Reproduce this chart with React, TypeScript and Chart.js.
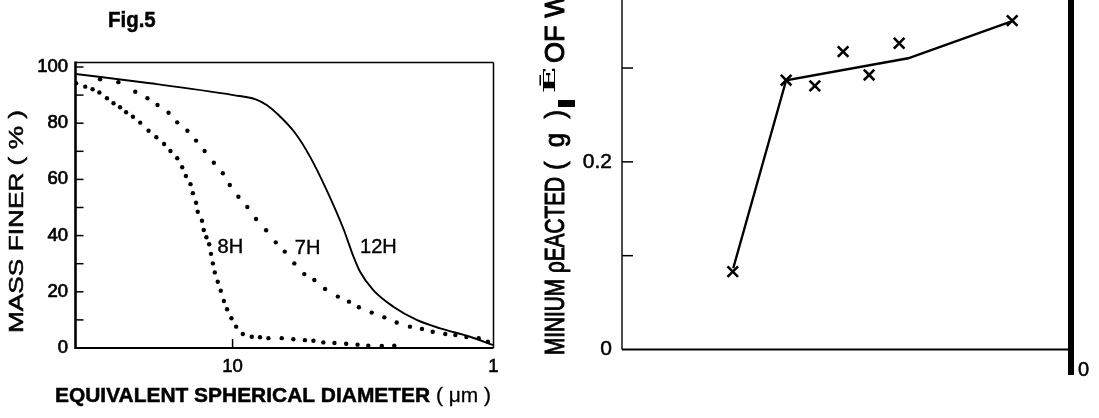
import React, { useEffect, useRef } from "react";
import { Chart, registerables } from "chart.js";
Chart.register(...registerables);

const FONT = '"Liberation Sans", Arial, Helvetica, sans-serif';

// ---------- Left chart (Fig.5) data ----------
const diameterTicks = [10, 1];
const massTickLabels = [0, 20, 40, 60, 80, 100];
const massMinorTicks = [0, 10, 20, 30, 40, 50, 60, 70, 80, 90, 100];

const curve12H_d = [39.9, 20.7, 9.93, 8.2, 7.4, 6.77, 5.76, 5.05, 4.36, 3.77, 3.44, 3.25, 2.89, 2.42, 1.97, 1.6, 1.23, 1.0];
const curve12H_m = [97.5, 94.2, 90.0, 88.6, 86.5, 83.5, 76.5, 68.1, 56.2, 42.7, 32.5, 27.2, 20.6, 14.7, 10.0, 7.0, 4.0, 1.0];

const dots7H_d = [32.2, 27.4, 23.6, 21.2, 19.4, 17.6, 16.3, 14.9, 13.8, 12.8, 11.8, 10.9, 10.25, 9.5, 8.78, 8.13, 7.44, 6.83, 6.31, 5.8, 5.31, 4.86, 4.42, 3.95, 3.58, 3.28, 2.93, 2.62, 2.35, 2.09, 1.88, 1.71, 1.53, 1.4, 1.27, 1.14, 1.05];
const dots7H_m = [95.6, 94.6, 91.2, 88.9, 86.5, 83.7, 80.3, 77.3, 73.8, 70.1, 65.9, 62.2, 58.0, 53.8, 50.2, 45.9, 41.9, 37.6, 34.3, 30.1, 26.3, 24.2, 21.0, 18.3, 16.5, 14.5, 12.6, 10.9, 9.1, 7.6, 6.8, 5.8, 5.0, 4.6, 3.9, 3.5, 2.2];

const dots8H_d = [39.8, 36.7, 34.4, 32.4, 30.3, 28.6, 27.0, 25.6, 24.1, 22.6, 21.0, 19.6, 18.3, 17.3, 16.3, 15.6, 15.1, 14.5, 14.2, 13.8, 13.6, 13.1, 12.9, 12.6, 12.3, 12.1, 11.9, 11.7, 11.4, 11.1, 10.8, 10.5, 10.1, 9.69, 9.14, 8.44, 7.85, 7.29, 6.48, 5.85, 5.28, 4.9, 4.49, 4.07, 3.67, 3.32, 3.02, 2.68, 2.4];
const dots8H_m = [94.2, 93.0, 92.1, 90.9, 88.9, 87.1, 85.7, 83.9, 82.3, 80.2, 77.3, 75.0, 72.6, 70.1, 67.5, 64.3, 61.2, 58.3, 55.1, 51.7, 48.5, 45.3, 42.0, 39.4, 36.9, 33.5, 30.1, 26.9, 23.6, 20.4, 16.7, 13.8, 10.6, 7.6, 5.0, 4.0, 3.8, 3.5, 3.5, 3.1, 2.8, 2.6, 2.0, 1.8, 1.5, 1.2, 0.8, 0.7, 0.8];

const curveLabels = ["8H", "7H", "12H"];
const curveLabelD = [10.2, 5.16, 2.76];
const curveLabelM = [35.6, 35.5, 35.8];

// ---------- Right chart data ----------
const reactedTickLabels = [0, 0.2];
const reactedMinorTicks = [0.1, 0.2, 0.3];
const sampleX = [2.47, 3.66, 4.3, 4.93, 5.51, 6.18, 8.7];
const sampleY = [0.083, 0.287, 0.281, 0.3175, 0.2926, 0.3264, 0.3505];
const fitX = [2.48, 3.66, 6.38, 8.7];
const fitY = [0.0866, 0.287, 0.3104, 0.35];

const zip = (xs: number[], ys: number[]) => xs.map((x, i) => ({ x, y: ys[i] }));

function line(ctx: CanvasRenderingContext2D, x1: number, y1: number, x2: number, y2: number) {
  ctx.beginPath();
  ctx.moveTo(x1, y1);
  ctx.lineTo(x2, y2);
  ctx.stroke();
}

function heavyText(ctx: CanvasRenderingContext2D, text: string, x: number, y: number, stroke = 0.6) {
  ctx.fillText(text, x, y);
  if (stroke > 0) {
    ctx.save();
    ctx.lineWidth = stroke;
    ctx.strokeStyle = "#000";
    ctx.strokeText(text, x, y);
    ctx.restore();
  }
}

// vertical text reading bottom-to-top, starting at yStart, fitted to length
function vText(ctx: CanvasRenderingContext2D, text: string, cx: number, yStart: number, font: string, fitLen?: number, stroke = 0.6) {
  ctx.save();
  ctx.translate(cx, yStart);
  ctx.rotate(-Math.PI / 2);
  ctx.font = font;
  ctx.textAlign = "left";
  ctx.textBaseline = "middle";
  if (fitLen) {
    const w = ctx.measureText(text).width;
    ctx.scale(fitLen / w, 1);
  }
  heavyText(ctx, text, 0, 0, stroke);
  ctx.restore();
}

const leftDecor = {
  id: "leftDecor",
  afterDraw(chart: any) {
    const { ctx, chartArea: a, scales } = chart;
    const x = scales.x;
    const y = scales.y;
    ctx.save();
    ctx.strokeStyle = "#000";
    ctx.fillStyle = "#000";
    ctx.lineWidth = 1.5;
    line(ctx, a.left, a.top, a.right, a.top);
    line(ctx, a.right, a.top, a.right, a.bottom);
    ctx.lineWidth = 2.6;
    line(ctx, a.left, a.top - 1, a.left, a.bottom + 1);
    ctx.lineWidth = 2;
    line(ctx, a.left, a.bottom, a.right, a.bottom);
    ctx.lineWidth = 1.5;
    massMinorTicks.forEach((v) => {
      const py = y.getPixelForValue(v);
      line(ctx, a.left, py, a.left + 8, py);
    });
    const p10 = x.getPixelForValue(10);
    line(ctx, p10, a.bottom, p10, a.bottom - 9);

    ctx.font = `20px ${FONT}`;
    ctx.textAlign = "center";
    ctx.textBaseline = "middle";
    curveLabels.forEach((t, i) => {
      heavyText(ctx, t, x.getPixelForValue(curveLabelD[i]), y.getPixelForValue(curveLabelM[i]), 0.4);
    });

    // Fig title
    ctx.font = `bold 22px ${FONT}`;
    ctx.textAlign = "left";
    ctx.textBaseline = "alphabetic";
    ctx.save();
    ctx.translate(108, 27);
    ctx.scale(0.93, 1);
    heavyText(ctx, "Fig.5", 0, 0, 0.5);
    ctx.restore();

    // y title
    vText(ctx, "MASS FINER ( % )", 17, 333, `21px ${FONT}`, 223, 0.5);

    // x title
    ctx.save();
    const bold = "EQUIVALENT SPHERICAL DIAMETER";
    const reg = " ( \u03bcm )";
    ctx.font = `bold 21px ${FONT}`;
    const wb = ctx.measureText(bold).width;
    ctx.font = `21px ${FONT}`;
    const wr = ctx.measureText(reg).width;
    ctx.translate(55, 402);
    ctx.scale(436 / (wb + wr), 1);
    ctx.font = `bold 21px ${FONT}`;
    heavyText(ctx, bold, 0, 0, 0.5);
    ctx.font = `21px ${FONT}`;
    heavyText(ctx, reg, wb, 0, 0.3);
    ctx.restore();
    ctx.restore();
  },
};

const rightDecor = {
  id: "rightDecor",
  afterDraw(chart: any) {
    const { ctx, chartArea: a, scales } = chart;
    const y = scales.y;
    ctx.save();
    ctx.strokeStyle = "#000";
    ctx.fillStyle = "#000";
    ctx.lineWidth = 1.4;
    line(ctx, a.left, 0, a.left, a.bottom);
    ctx.lineWidth = 2.2;
    line(ctx, a.left, a.bottom, a.right, a.bottom);
    ctx.lineWidth = 1.5;
    reactedMinorTicks.forEach((v) => {
      const py = y.getPixelForValue(v);
      line(ctx, a.left, py, a.left + 11, py);
    });
    // thick right bar
    ctx.fillRect(a.right - 2.5, 0, 6, 375);

    // y title (rotated)
    const big = `27px ${FONT}`;
    vText(ctx, "MINIUM \u03c1EACTED", 26.5, 355, big, 178, 1.0);
    vText(ctx, "(  g  )", 26.5, 170, big, 60, 0.8);
    ctx.fillRect(28, 100, 17, 7);
    vText(ctx, "\u0112", 21, 93, `bold 16px "DejaVu Serif", serif`, 26, 0);
    vText(ctx, "OF WATER", 26.5, 63, big, 140, 1.0);
    ctx.restore();
  },
};

export default function App() {
  const leftRef = useRef<HTMLCanvasElement>(null);
  const rightRef = useRef<HTMLCanvasElement>(null);

  useEffect(() => {
    const left = new Chart(leftRef.current as HTMLCanvasElement, {
      type: "scatter",
      data: {
        datasets: [
          {
            label: "12H",
            data: zip(curve12H_d, curve12H_m),
            showLine: true,
            borderColor: "#000",
            borderWidth: 1.9,
            pointRadius: 0,
            cubicInterpolationMode: "monotone",
          },
          {
            label: "7H",
            data: zip(dots7H_d, dots7H_m),
            showLine: false,
            pointRadius: 2.2,
            pointBackgroundColor: "#000",
            pointBorderWidth: 0,
          },
          {
            label: "8H",
            data: zip(dots8H_d, dots8H_m),
            showLine: false,
            pointRadius: 2.2,
            pointBackgroundColor: "#000",
            pointBorderWidth: 0,
          },
        ],
      } as any,
      options: {
        animation: false,
        responsive: false,
        devicePixelRatio: 1,
        layout: { autoPadding: false, padding: { left: 0, top: 62.5, right: 36.5, bottom: 0 } },
        plugins: { legend: { display: false }, tooltip: { enabled: false } },
        scales: {
          x: {
            type: "logarithmic",
            reverse: true,
            min: 1,
            max: 40,
            grid: { display: false, drawTicks: false },
            border: { display: false },
            ticks: {
              color: "#000",
              font: { family: FONT, size: 18.5 },
              textStrokeColor: "#000",
              textStrokeWidth: 0.6,
              padding: 7.6,
              maxRotation: 0,
              autoSkip: false,
              callback: (v: any) => String(v),
            },
            afterBuildTicks: (s: any) => {
              s.ticks = diameterTicks.map((v) => ({ value: v }));
            },
            afterFit: (s: any) => {
              s.height = 70;
              s.paddingLeft = 0;
              s.paddingRight = 0;
            },
          },
          y: {
            type: "linear",
            min: 0,
            max: 101.6,
            grid: { display: false, drawTicks: false },
            border: { display: false },
            ticks: {
              color: "#000",
              font: { family: FONT, size: 18.5 },
              textStrokeColor: "#000",
              textStrokeWidth: 0.7,
              padding: 7.5,
              autoSkip: false,
              callback: (v: any) => String(v),
            },
            afterBuildTicks: (s: any) => {
              s.ticks = massTickLabels.map((v) => ({ value: v }));
            },
            afterFit: (s: any) => {
              s.width = 75.5;
              s.paddingTop = 0;
              s.paddingBottom = 0;
            },
          },
        },
      } as any,
      plugins: [leftDecor],
    });

    const right = new Chart(rightRef.current as HTMLCanvasElement, {
      type: "scatter",
      data: {
        datasets: [
          {
            label: "fit",
            data: zip(fitX, fitY),
            showLine: true,
            borderColor: "#000",
            borderWidth: 2.4,
            pointRadius: 0,
            tension: 0,
          },
          {
            label: "samples",
            data: zip(sampleX, sampleY),
            showLine: false,
            pointStyle: "crossRot",
            pointRadius: 7.5,
            pointBorderColor: "#000",
            pointBorderWidth: 2.6,
          },
        ],
      } as any,
      options: {
        animation: false,
        responsive: false,
        devicePixelRatio: 1,
        layout: { autoPadding: false, padding: { left: 0, top: 0, right: 28.5, bottom: 0 } },
        plugins: { legend: { display: false }, tooltip: { enabled: false } },
        scales: {
          x: {
            type: "linear",
            min: 0,
            max: 10,
            grid: { display: false, drawTicks: false },
            border: { display: false },
            ticks: {
              color: "#000",
              font: { family: FONT, size: 20 },
              textStrokeColor: "#000",
              textStrokeWidth: 0.5,
              padding: 8.5,
              labelOffset: 13,
              maxRotation: 0,
              autoSkip: false,
              callback: () => "0",
            },
            afterBuildTicks: (s: any) => {
              s.ticks = [{ value: 10 }];
            },
            afterFit: (s: any) => {
              s.height = 68.5;
              s.paddingLeft = 0;
              s.paddingRight = 0;
            },
          },
          y: {
            type: "linear",
            min: 0,
            max: 0.3725,
            grid: { display: false, drawTicks: false },
            border: { display: false },
            ticks: {
              color: "#000",
              font: { family: FONT, size: 21 },
              textStrokeColor: "#000",
              textStrokeWidth: 0.5,
              padding: 10,
              autoSkip: false,
              callback: (v: any) => String(v),
            },
            afterBuildTicks: (s: any) => {
              s.ticks = reactedTickLabels.map((v) => ({ value: v }));
            },
            afterFit: (s: any) => {
              s.width = 92;
              s.paddingTop = 0;
              s.paddingBottom = 0;
            },
          },
        },
      } as any,
      plugins: [rightDecor],
    });

    return () => {
      left.destroy();
      right.destroy();
    };
  }, []);

  return (
    <div style={{ position: "absolute", left: 0, top: 0, width: 1099, height: 418, background: "#fff", overflow: "hidden" }}>
      <canvas ref={leftRef} width={530} height={418} style={{ position: "absolute", left: 0, top: 0 }} />
      <canvas ref={rightRef} width={569} height={418} style={{ position: "absolute", left: 530, top: 0 }} />
    </div>
  );
}
